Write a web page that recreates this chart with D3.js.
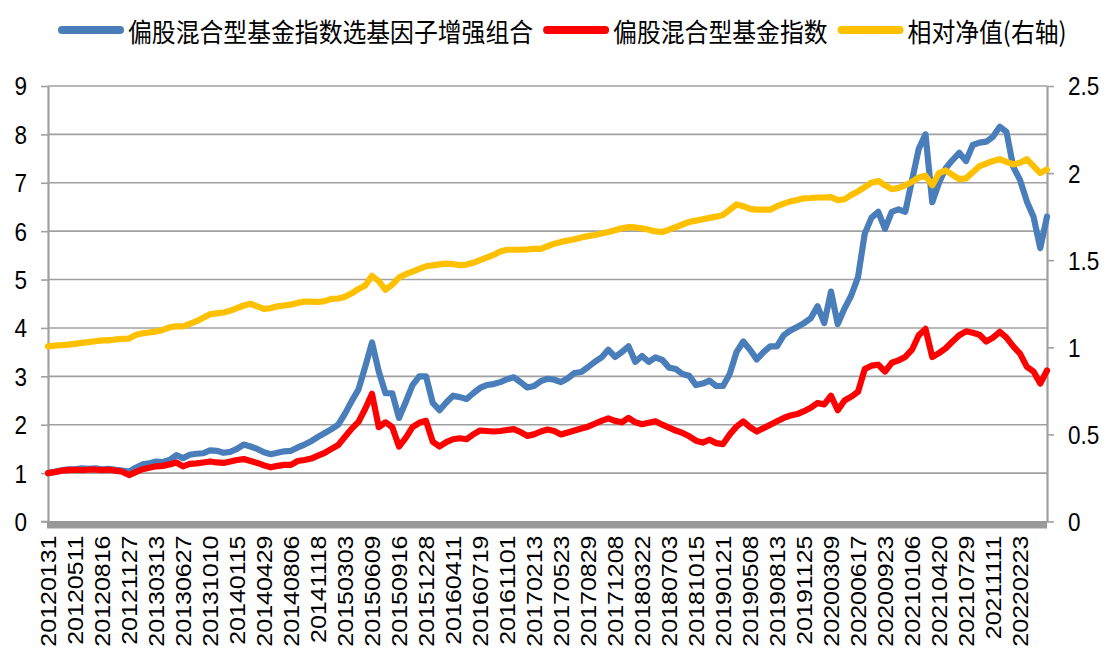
<!DOCTYPE html>
<html><head><meta charset="utf-8">
<script src="https://cdnjs.cloudflare.com/ajax/libs/d3/7.8.5/d3.min.js"></script>
<style>
html,body{margin:0;padding:0;background:#fff;}
svg{display:block;font-family:"Liberation Sans",Arial,sans-serif;}
</style></head>
<body><svg id="c" width="1110" height="657"></svg>
<script>
// ---------- data ----------
const seriesNames = ["偏股混合型基金指数选基因子增强组合", "偏股混合型基金指数", "相对净值(右轴)"];
const dateLabels = ["20120131","20120511","20120816","20121127","20130313","20130627","20131010","20140115","20140429","20140806","20141118","20150303","20150609","20150916","20151228","20160411","20160719","20161101","20170213","20170523","20170829","20171208","20180322","20180703","20181015","20190121","20190508","20190813","20191125","20200309","20200617","20200923","20210106","20210420","20210729","20211111","20220223"];
const samplesPerLabel = 4;   // readings taken every quarter label interval
const axisSpanLabels = 37;   // category axis spans 37 label intervals
const leftTicks = [0,1,2,3,4,5,6,7,8,9];
const rightTicks = [0,0.5,1,1.5,2,2.5];

const enhanced = [1.00,1.03,1.06,1.08,1.08,1.10,1.09,1.10,1.08,1.09,1.07,1.05,1.03,1.11,1.18,1.20,1.24,1.23,1.27,1.37,
1.31,1.38,1.40,1.41,1.47,1.46,1.42,1.44,1.50,1.59,1.55,1.50,1.43,1.39,1.42,1.45,1.46,1.53,1.59,1.66,
1.75,1.83,1.91,2.00,2.23,2.49,2.73,3.20,3.70,3.10,2.65,2.65,2.14,2.47,2.82,3.00,3.00,2.45,2.30,2.46,
2.60,2.57,2.53,2.65,2.76,2.82,2.84,2.88,2.94,2.98,2.88,2.77,2.80,2.90,2.95,2.93,2.88,2.96,3.07,3.09,
3.19,3.30,3.39,3.55,3.40,3.50,3.62,3.30,3.42,3.30,3.39,3.34,3.18,3.15,3.05,3.01,2.82,2.85,2.91,2.80,
2.80,3.05,3.50,3.72,3.55,3.35,3.50,3.62,3.62,3.85,3.95,4.02,4.10,4.20,4.45,4.10,4.75,4.08,4.40,4.67,
5.05,5.95,6.28,6.40,6.05,6.40,6.45,6.40,7.05,7.70,8.00,6.60,7.00,7.30,7.47,7.62,7.45,7.78,7.83,7.85,
7.95,8.16,8.05,7.33,7.06,6.62,6.30,5.65,6.30];

const fundIndex = [1.00,1.02,1.05,1.06,1.07,1.06,1.07,1.07,1.06,1.07,1.05,1.03,0.96,1.02,1.08,1.11,1.14,1.15,1.18,1.22,
1.14,1.19,1.20,1.22,1.24,1.22,1.21,1.24,1.27,1.29,1.25,1.21,1.16,1.12,1.15,1.17,1.17,1.25,1.27,1.30,
1.36,1.42,1.50,1.58,1.75,1.92,2.06,2.33,2.64,1.95,2.05,1.95,1.55,1.73,1.95,2.04,2.08,1.65,1.55,1.64,
1.70,1.72,1.70,1.80,1.88,1.87,1.86,1.87,1.89,1.91,1.85,1.77,1.80,1.86,1.90,1.87,1.80,1.84,1.88,1.92,
1.96,2.02,2.08,2.13,2.08,2.05,2.14,2.05,2.01,2.04,2.07,2.00,1.94,1.88,1.83,1.76,1.67,1.63,1.69,1.62,
1.60,1.80,1.96,2.07,1.95,1.86,1.93,2.00,2.07,2.14,2.19,2.22,2.28,2.35,2.45,2.42,2.60,2.30,2.50,2.58,
2.68,3.15,3.22,3.24,3.10,3.28,3.33,3.40,3.55,3.85,3.98,3.40,3.48,3.58,3.72,3.85,3.93,3.90,3.86,3.72,
3.80,3.92,3.80,3.62,3.47,3.20,3.10,2.85,3.12];

const relativeNav = [1.005,1.010,1.012,1.015,1.020,1.025,1.030,1.035,1.040,1.040,1.045,1.048,1.050,1.070,1.080,1.085,1.090,1.100,1.115,1.120,
1.120,1.135,1.150,1.170,1.190,1.195,1.200,1.210,1.225,1.240,1.250,1.235,1.220,1.225,1.235,1.240,1.245,1.255,1.262,1.262,
1.260,1.265,1.278,1.280,1.290,1.310,1.335,1.355,1.410,1.380,1.330,1.360,1.400,1.420,1.435,1.450,1.465,1.470,1.476,1.480,
1.477,1.472,1.475,1.485,1.500,1.515,1.530,1.550,1.560,1.560,1.560,1.562,1.565,1.565,1.580,1.595,1.605,1.613,1.620,1.630,
1.638,1.645,1.653,1.662,1.672,1.683,1.690,1.688,1.683,1.675,1.665,1.662,1.675,1.690,1.705,1.720,1.727,1.735,1.743,1.750,
1.760,1.790,1.820,1.810,1.795,1.790,1.790,1.790,1.810,1.825,1.838,1.845,1.855,1.857,1.860,1.860,1.862,1.845,1.850,1.875,
1.895,1.920,1.945,1.955,1.930,1.908,1.915,1.930,1.950,1.975,1.985,1.930,2.000,2.015,1.990,1.965,1.970,2.005,2.040,2.055,
2.070,2.080,2.065,2.050,2.060,2.080,2.040,2.000,2.020];

const colors = ["#4a7ebb", "#ff0000", "#ffc000"];

// ---------- layout ----------
const svg = d3.select("#c");
const L = 48, R = 1047, T = 86, B = 521.5;
const SX = 0.9; // glyph horizontal compression seen in the reference
const x = d3.scaleLinear().domain([0, axisSpanLabels]).range([L, R]);
const yL = d3.scaleLinear().domain([0, 9]).range([B, T]);
const yR = d3.scaleLinear().domain([0, 2.5]).range([B, T]);
const grid = "#a0a0a0";

// gridlines
svg.append("g").selectAll("line").data(leftTicks.filter(d => d > 0)).join("line")
  .attr("x1", L).attr("x2", R).attr("y1", d => yL(d)).attr("y2", d => yL(d))
  .attr("stroke", grid).attr("stroke-width", 1.6);

// left axis
const gl = svg.append("g").attr("transform", `translate(${L},0)`)
  .call(d3.axisLeft(yL).tickValues(leftTicks).tickSize(7).tickSizeOuter(0).tickPadding(0));
gl.select(".domain").attr("stroke", grid).attr("stroke-width", 2.2);
gl.selectAll(".tick line").attr("stroke", grid).attr("stroke-width", 1.6);
gl.selectAll(".tick text").attr("x", null).attr("dy", null)
  .attr("transform", `translate(-21,0) scale(${SX},1)`).attr("dominant-baseline", "central")
  .attr("font-size", 25).attr("font-family", "Liberation Sans, Arial, sans-serif").attr("fill", "#000");

// right axis
const gr = svg.append("g").attr("transform", `translate(${R},0)`)
  .call(d3.axisRight(yR).tickValues(rightTicks).tickFormat(d3.format("")).tickSize(7).tickSizeOuter(0).tickPadding(0));
gr.select(".domain").attr("stroke", grid).attr("stroke-width", 2.2);
gr.selectAll(".tick line").attr("stroke", grid).attr("stroke-width", 1.6);
gr.selectAll(".tick text").attr("x", null).attr("dy", null)
  .attr("transform", `translate(21,0) scale(${SX},1)`).attr("dominant-baseline", "central")
  .attr("font-size", 25).attr("font-family", "Liberation Sans, Arial, sans-serif").attr("fill", "#000");

// bottom category axis: dense tick band
svg.append("rect").attr("x", L - 1).attr("y", B - 0.5).attr("width", R - L + 1).attr("height", 7.5).attr("fill", "#999");
svg.append("line").attr("x1", L - 7).attr("x2", L).attr("y1", B).attr("y2", B).attr("stroke", grid).attr("stroke-width", 1.6);

// x labels
svg.append("g").selectAll("text").data(dateLabels).join("text")
  .attr("transform", (d, i) => `translate(${x(i)},${B + 14}) scale(${SX},1) rotate(-90)`)
  .attr("text-anchor", "end").attr("dominant-baseline", "central")
  .attr("font-size", 25).attr("fill", "#000").text(d => d);

// lines
const idx = i => x(i / samplesPerLabel);
const lineL = d3.line().x((d, i) => idx(i)).y(d => yL(d));
const lineR = d3.line().x((d, i) => idx(i)).y(d => yR(d));
const plot = svg.append("g").attr("fill", "none").attr("stroke-width", 6.2)
  .attr("stroke-linejoin", "round").attr("stroke-linecap", "round");
plot.append("path").datum(enhanced).attr("d", lineL).attr("stroke", colors[0]);
plot.append("path").datum(fundIndex).attr("d", lineL).attr("stroke", colors[1]);
plot.append("path").datum(relativeNav).attr("d", lineR).attr("stroke", colors[2]);

// legend
const legend = svg.append("g").attr("font-family", "'Noto Sans CJK SC', sans-serif");
let cx = 62;
const ly = 30;
seriesNames.forEach((name, i) => {
  legend.append("line").attr("x1", cx).attr("x2", cx + 58).attr("y1", ly).attr("y2", ly)
    .attr("stroke", colors[i]).attr("stroke-width", 8).attr("stroke-linecap", "round");
  const t = legend.append("text").attr("transform", `translate(${cx + 66},${ly}) scale(${SX},1)`)
    .attr("dominant-baseline", "central").attr("font-size", 26.5).attr("fill", "#000").text(name);
  const w = t.node().getComputedTextLength() * SX;
  cx = cx + 66 + w + 14;
});
</script></body></html>
